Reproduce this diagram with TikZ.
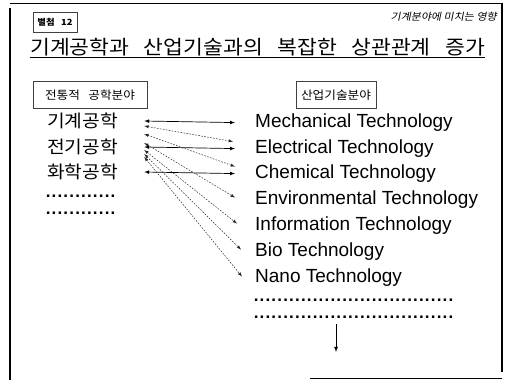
\documentclass[tikz,border=0pt]{standalone}
\usepackage{fontspec}
\setmainfont{Liberation Sans}
\newfontfamily\kr{Noto Sans CJK KR}[WordSpace=3, FakeStretch=1.1]
\newfontfamily\krit{Noto Sans CJK KR}[FakeSlant=0.2, FakeStretch=1.1]
\usetikzlibrary{arrows,calc}

% row of dots with a fixed pitch
\newcommand{\dotrow}[1]{\foreach \d in {1,...,#1}{\makebox[5.9pt]{.}}}

\begin{document}
\begin{tikzpicture}[
        x=1pt, y=-1pt,
        field/.style={
            rectangle,
            draw=black!75,
            thin,
            inner sep=5pt,
            minimum height=27pt,
            font=\kr\fontsize{11.5}{14}\selectfont
        },
        branch/.style={
            anchor=west,
            inner sep=0pt,
            font=\kr\fontsize{17.5}{20}\selectfont
        },
        tech/.style={
            anchor=base west,
            inner sep=0pt,
            font=\fontsize{19}{22}\selectfont
        },
        dots/.style={
            anchor=west,
            inner sep=0pt,
            font=\bfseries\fontsize{17}{18}\selectfont
        },
        link/.style={latex-latex, draw, line width=0.7pt},
        relation/.style={latex-latex, draw=black!85, line width=0.5pt, dash pattern=on 1.6pt off 1.4pt},
        arrow/.style={-latex, draw, line width=0.8pt}
    ]
        \useasboundingbox (0,0) rectangle (505,380);

        % Page frame
        \draw[line width=1.6pt] (10,8) -- (10,380);
        \draw[line width=1.2pt] (502,3) -- (502,372);
        \draw[thin] (10,3) -- (502,3);
        \draw[thin] (310,378) -- (502,378);

        % Header
        \node[draw=black!75, thin, minimum width=44pt, minimum height=20pt, font=\kr\bfseries\fontsize{8.5}{10}\selectfont] (annex) at (55,22) {별첨 12};
        \node[anchor=east, inner sep=0pt, font=\krit\fontsize{10}{12}\selectfont] (topic) at (497,17) {기계분야에 미치는 영향};
        \node[anchor=west, inner sep=0pt, font=\kr\fontsize{19.6}{24}\selectfont] (title) at (30,47) {기계공학과 산업기술과의 복잡한 상관관계 증가};
        \draw[line width=1pt] ($(title.base west)+(0,3)$) -- ($(title.base east)+(0,3)$);

        % Field nodes
        \node[field, minimum width=114pt] (tradfield) at (90,95) {전통적 공학분야};
        \node[field, minimum width=77pt] (techfield) at (336,95) {산업기술분야};

        \node[branch] (mech) at (47,121) {기계공학};
        \node[branch] (elec) at (47,147) {전기공학};
        \node[branch] (chem) at (47,172) {화학공학};
        \node[dots] (ldots1) at (45,196) {\dotrow{12}};
        \node[dots] (ldots2) at (45,213) {\dotrow{12}};

        \node[tech] (mechtech) at (255,127.5) {Mechanical Technology};
        \node[tech] (electech) at (255,153.5) {Electrical Technology};
        \node[tech] (chemtech) at (255,178.5) {Chemical Technology};
        \node[tech] (envtech) at (255,204.5) {Environmental Technology};
        \node[tech] (infotech) at (255,230.5) {Information Technology};
        \node[tech] (biotech) at (255,256.5) {Bio Technology};
        \node[tech] (nanotech) at (255,282.5) {Nano Technology};
        \node[dots] (rdots1) at (253,300) {\dotrow{34}};
        \node[dots] (rdots2) at (253,317) {\dotrow{34}};
        \coordinate (next) at (336,352);

        % Direct links
        \draw[link] ($(mech.east)+(26,0)$) -- ($(mechtech.west)+(-20,0)$);
        \draw[link] ($(elec.east)+(26,0)$) -- ($(electech.west)+(-20,0)$);
        \draw[link] ($(chem.east)+(26,0)$) -- ($(chemtech.west)+(-20,0)$);

        % Cross relations
        \draw[relation] ($(mech.east)+(26,5)$) -- ($(electech.west)+(-22,-7)$);
        \draw[relation] ($(mech.east)+(26,13)$) -- ($(chemtech.west)+(-20,-7)$);
        \draw[relation] ($(elec.east)+(26,-4)$) -- ($(envtech.west)+(-20,-2)$);
        \draw[relation] ($(elec.east)+(26,3)$) -- ($(infotech.west)+(-18,-2)$);
        \draw[relation] ($(elec.east)+(26,7)$) -- ($(biotech.west)+(-14,-2)$);
        \draw[relation] ($(elec.east)+(26,10)$) -- ($(nanotech.west)+(-13,-1)$);

        % More to come
        \draw[arrow, shorten <=6pt] (rdots2.south -| techfield.center) -- (next);

    \end{tikzpicture}
\end{document}
